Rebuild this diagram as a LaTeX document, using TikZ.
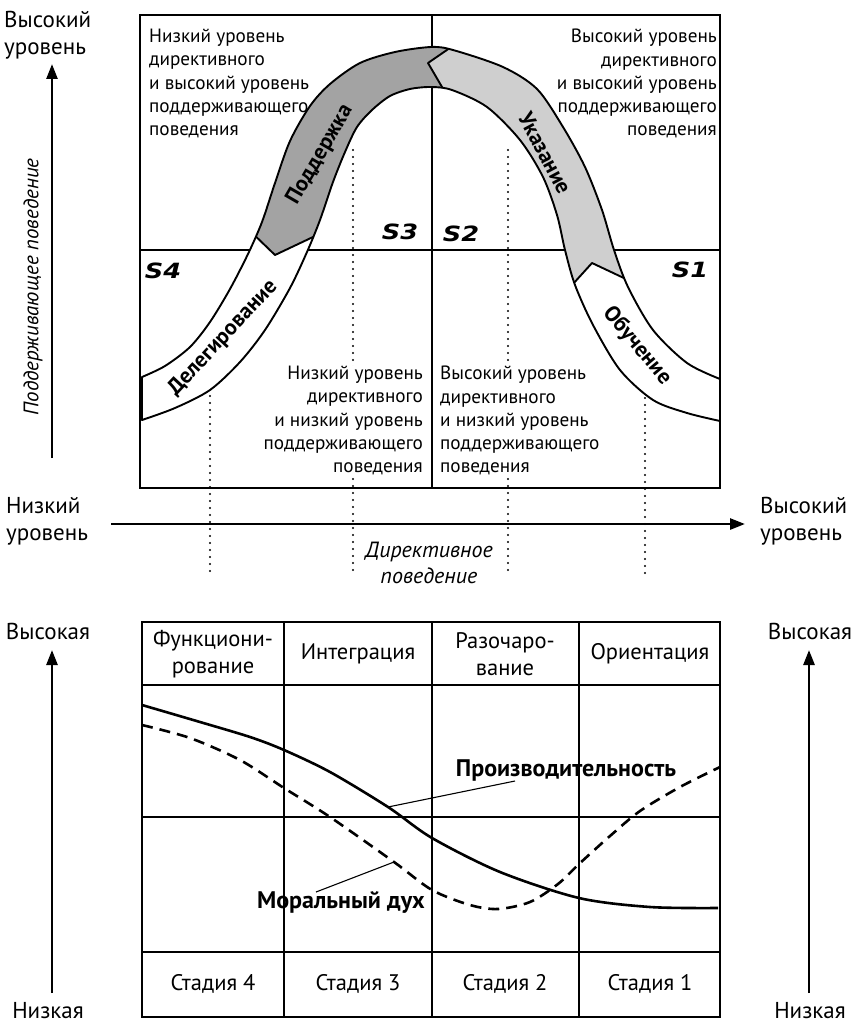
\documentclass[tikz,border=0pt]{standalone}
\usepackage{fontspec}
\setmainfont{PT Sans}
\newfontfamily\heavyfont{DejaVu Sans}[FakeStretch=1.22]
\usetikzlibrary{arrows.meta}

\definecolor{supportgray}{gray}{0.64}
\definecolor{directgray}{gray}{0.81}

\newcommand{\bandshape}{plot[smooth] coordinates {(142,377) (165,366) (190,347) (210,322) (230,289) (248,254) (262,222) (275,183) (290,141) (310,106) (330,84) (360,63) (395,52) (431,47) (453,50) (503,67) (537,89) (563,127) (585,167) (602,210) (614,250) (628,287) (653,330) (687,363) (720,379)}
  -- plot[smooth] coordinates {(720,421) (687,413) (653,400) (620,370) (593,325) (575,285) (565,250) (557,215) (543,177) (520,140) (487,107) (452,90) (431,87) (410,89) (390,96) (372,110) (357,127) (345,152) (333,182) (320,220) (307,252) (290,288) (265,330) (240,362) (210,390) (175,408) (142,420)} -- cycle}

\begin{document}
\begin{tikzpicture}[x=1pt, y=-1pt,
      boxtext/.style = {font=\fontsize{19.2}{23.3}\selectfont, inner sep=0pt},
      axistext/.style = {font=\fontsize{23}{27}\selectfont, align=left, inner sep=0pt},
      celltext/.style = {font=\fontsize{22.5}{27}\selectfont, align=center, inner sep=0pt},
      bandtext/.style = {font=\fontsize{22}{24}\selectfont\bfseries, inner sep=0pt},
      curvetext/.style = {font=\fontsize{24}{26}\selectfont\bfseries, inner sep=0pt},
      stext/.style = {font=\heavyfont\fontsize{21}{23}\selectfont\bfseries\itshape, inner sep=0pt},
      grid/.style = {line width=2.4pt},
      frame/.style = {line width=2.8pt},
      bandline/.style = {line width=1.9pt, line join=round},
      dots/.style = {line width=2.2pt, dash pattern=on 0pt off 7pt, line cap=round},
      axis/.style = {line width=2.6pt, -{Triangle[length=15pt, width=11pt]}},
      prodline/.style = {line width=2.6pt},
      moralline/.style = {line width=2.6pt, dash pattern=on 11pt off 7pt},
      leader/.style = {line width=1.1pt}]
    \useasboundingbox (0,0) rectangle (852,1027);

    % upper part
    \draw[grid] (432,15) -- (432,488);
    \draw[grid] (140,250) -- (720,250);
    \foreach \x/\y in {210/396, 353/150, 508/150, 645/398}
      \draw[dots] (\x,\y) -- (\x,577);
    \fill[white] \bandshape;
    \begin{scope}
      \clip \bandshape;
      \fill[supportgray] (247,228) -- (275,255) -- (332,228) -- (449,99) -- (428,63) -- (460,41) -- (460,0) -- (140,0) -- (140,228) -- cycle;
      \fill[directgray] (460,41) -- (428,63) -- (449,99) -- (563,295) -- (592,263) -- (645,288) -- (740,288) -- (740,0) -- (460,0) -- cycle;
      \draw[bandline] (247,228) -- (275,255) -- (332,228);
      \draw[bandline] (460,41) -- (428,63) -- (449,99);
      \draw[bandline] (563,295) -- (592,263) -- (645,288);
    \end{scope}
    \draw[bandline] \bandshape;
    \draw[frame] (140,15) rectangle (720,488);

    \node[bandtext, rotate=60] (support) at (320,155) {Поддержка};
    \node[bandtext, rotate=-62] (direct) at (545,153) {Указание};
    \node[bandtext, rotate=47] (delegate) at (223,338) {Делегирование};
    \node[bandtext, rotate=-50] (coach) at (637,346) {Обучение};

    \node[stext] (s3) at (400,232) {S3};
    \node[stext] (s2) at (461,234) {S2};
    \node[stext] (s4) at (163,271) {S4};
    \node[stext] (s1) at (690,270) {S1};

    \node[boxtext, align=left, anchor=north west] (tl) at (149,29)
      {Низкий уровень\\директивного\\и высокий уровень\\поддерживающего\\поведения};
    \node[boxtext, align=right, anchor=north east] (tr) at (717,29)
      {Высокий уровень\\директивного\\и высокий уровень\\поддерживающего\\поведения};
    \node[boxtext, align=right, anchor=north east, fill=white] (bl) at (423,366)
      {Низкий уровень\\директивного\\и низкий уровень\\поддерживающего\\поведения};
    \node[boxtext, align=left, anchor=north west, fill=white] (br) at (440,366)
      {Высокий уровень\\директивного\\и низкий уровень\\поддерживающего\\поведения};

    \node[axistext, anchor=north west] (yhigh) at (4,11) {Высокий\\уровень};
    \node[axistext, rotate=90, font=\fontsize{21}{24}\selectfont\itshape] (ylabel) at (33,287) {Поддерживающее поведение};
    \node[axistext, anchor=north west] (xlow) at (6,497) {Низкий\\уровень};
    \node[axistext, anchor=north west] (xhigh) at (760,497) {Высокий\\уровень};
    \node[axistext, align=center, font=\fontsize{22}{26}\selectfont\itshape] (xlabel) at (429,563) {Директивное\\поведение};
    \coordinate (ybot) at (52,458);
    \coordinate (ytop) at (52,64);
    \coordinate (xleft) at (111,524);
    \coordinate (xright) at (745,524);
    \draw[axis] (ybot) -- (ytop);
    \draw[axis] (xleft) -- (xright);

    % lower part
    \foreach \x in {284,432,579}
      \draw[grid] (\x,622) -- (\x,1017);
    \foreach \y in {685,817,952}
      \draw[grid] (142,\y) -- (720,\y);
    \draw[frame] (142,622) rectangle (720,1017);

    \node[celltext] (h4) at (213,654) {Функциони-\\рование};
    \node[celltext] (h3) at (358,654) {Интеграция};
    \node[celltext] (h2) at (505,654) {Разочаро-\\вание};
    \node[celltext] (h1) at (650,654) {Ориентация};
    \node[celltext] (st4) at (213,984) {Стадия 4};
    \node[celltext] (st3) at (358,984) {Стадия 3};
    \node[celltext] (st2) at (505,984) {Стадия 2};
    \node[celltext] (st1) at (650,984) {Стадия 1};

    \coordinate (prodpt) at (388,807);
    \coordinate (moralpt) at (394,862);
    \draw[prodline] plot[smooth] coordinates {(142,705) (200,722) (250,737) (284,750) (330,772) (prodpt) (432,838) (500,872) (579,898) (650,907) (718,908)};
    \draw[moralline] plot[smooth] coordinates {(142,725) (190,738) (240,760) (284,788) (330,817) (moralpt) (432,890) (470,905) (498,909) (530,902) (558,884) (579,864) (610,836) (640,811) (680,787) (720,767)};

    \node[curvetext] (prod) at (566,770) {Производительность};
    \node[curvetext] (moral) at (341,903) {Моральный дух};
    \coordinate (prodend) at (515,781);
    \coordinate (moralend) at (316,892);
    \draw[leader] (prodpt) -- (prodend);
    \draw[leader] (moralpt) -- (moralend);

    \node[axistext] (lhigh) at (48,631) {Высокая};
    \node[axistext] (llow) at (48,1011) {Низкая};
    \node[axistext] (rhigh) at (810,631) {Высокая};
    \node[axistext] (rlow) at (810,1011) {Низкая};
    \coordinate (lbot) at (52,993);
    \coordinate (ltop) at (52,650);
    \coordinate (rbot) at (809,993);
    \coordinate (rtop) at (809,650);
    \draw[axis] (lbot) -- (ltop);
    \draw[axis] (rbot) -- (rtop);
\end{tikzpicture}
\end{document}
